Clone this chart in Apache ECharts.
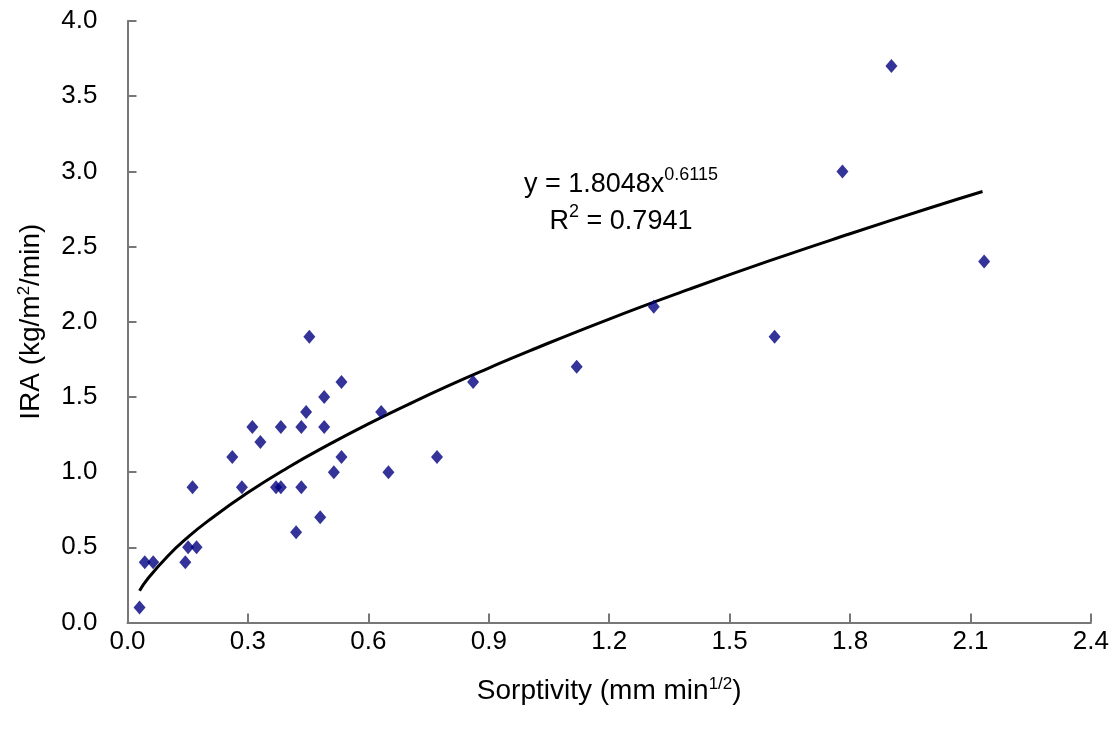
<!DOCTYPE html>
<html>
<head>
<meta charset="utf-8">
<script src="https://cdn.jsdelivr.net/npm/echarts@6/dist/echarts.min.js"></script>
<style>
html,body{margin:0;padding:0;background:#fff;}
#c{width:1112px;height:743px;}
</style>
</head>
<body>
<div id="c"></div>
<script>
var sorptivity = [0.030,0.043,0.064,0.144,0.151,0.172,0.162,0.261,0.285,0.311,0.331,0.370,0.382,0.382,0.420,0.433,0.433,0.445,0.453,0.480,0.490,0.490,0.514,0.533,0.533,0.632,0.650,0.771,0.861,1.119,1.311,1.612,1.781,1.903,2.134];
var ira        = [0.1,0.4,0.4,0.4,0.5,0.5,0.9,1.1,0.9,1.3,1.2,0.9,0.9,1.3,0.6,1.3,0.9,1.4,1.9,0.7,1.5,1.3,1.0,1.6,1.1,1.4,1.0,1.1,1.6,1.7,2.1,1.9,3.0,3.7,2.4];
// Power trendline as drawn in the reference (y = 1.8048x^0.6115)
var trendX = [0.03,0.05,0.1,0.15,0.2,0.3,0.4,0.5,0.6,0.7,0.8,0.9,1.0,1.2,1.4,1.6,1.8,2.0,2.13];
var trendY = [0.211,0.289,0.441,0.566,0.674,0.864,1.031,1.181,1.321,1.451,1.575,1.692,1.805,2.018,2.217,2.406,2.585,2.758,2.866];
// Tick labels
var xTicks = ['0.0','0.3','0.6','0.9','1.2','1.5','1.8','2.1','2.4'];
var yTicks = ['0.0','0.5','1.0','1.5','2.0','2.5','3.0','3.5','4.0'];

var FONT = "'Liberation Sans', Arial, sans-serif";
var pts = sorptivity.map(function(x,i){return [x, ira[i]];});
var trend = trendX.map(function(x,i){return [x, trendY[i]];});

var chart = echarts.init(document.getElementById('c'));
var axisCommon = {
  axisLine:{show:true, lineStyle:{color:'#777', width:2}},
  axisTick:{show:true, inside:true, length:9, lineStyle:{color:'#777', width:2}},
  splitLine:{show:false}
};
chart.setOption({
  animation:false,
  backgroundColor:'#fff',
  grid:{left:127.5, right:19.5, top:21, bottom:120.5, containLabel:false},
  xAxis: Object.assign({
    type:'value', min:0, max:2.4, interval:0.3,
    axisLabel:{margin:6, fontSize:26, color:'#000', fontFamily:FONT,
      formatter:function(v){return xTicks[Math.round(v/0.3)];}},
    name:'Sorptivity (mm min{sup|1/2})',
    nameLocation:'middle', nameGap:53,
    nameTextStyle:{fontSize:28, color:'#000', fontFamily:FONT, verticalAlign:'top', lineHeight:32,
      rich:{sup:{fontSize:17, fontFamily:FONT, color:'#000', verticalAlign:'top', lineHeight:32, padding:[0,0,12,0]}}}
  }, axisCommon),
  yAxis: Object.assign({
    type:'value', min:0, max:4, interval:0.5,
    axisLabel:{margin:30, fontSize:26, color:'#000', fontFamily:FONT,
      formatter:function(v){return yTicks[Math.round(v/0.5)];}},
    name:'IRA (kg/m{sup|2}/min)',
    nameLocation:'middle', nameGap:80, nameRotate:90,
    nameTextStyle:{fontSize:28, color:'#000', fontFamily:FONT, lineHeight:32,
      rich:{sup:{fontSize:17, fontFamily:FONT, color:'#000', verticalAlign:'top', lineHeight:32, padding:[0,0,12,0]}}}
  }, axisCommon),
  series:[
    {type:'scatter', data:pts, symbol:'diamond', symbolSize:[12,14],
     itemStyle:{color:'#000080'}, z:3},
    {type:'line', data:trend, smooth:true, symbol:'none',
     lineStyle:{color:'#000', width:3}, z:2}
  ],
  graphic:[
    {type:'text', x:621, y:166, z:10,
     style:{text:'y = 1.8048x{sup|0.6115}\nR{sup|2} = 0.7941', align:'center', verticalAlign:'top',
       fontSize:27, lineHeight:37, fontFamily:FONT, fill:'#000',
       rich:{sup:{fontSize:18, fontFamily:FONT, fill:'#000', verticalAlign:'top', lineHeight:37, padding:[0,0,14,0]}}}}
  ]
});
</script>
</body>
</html>
